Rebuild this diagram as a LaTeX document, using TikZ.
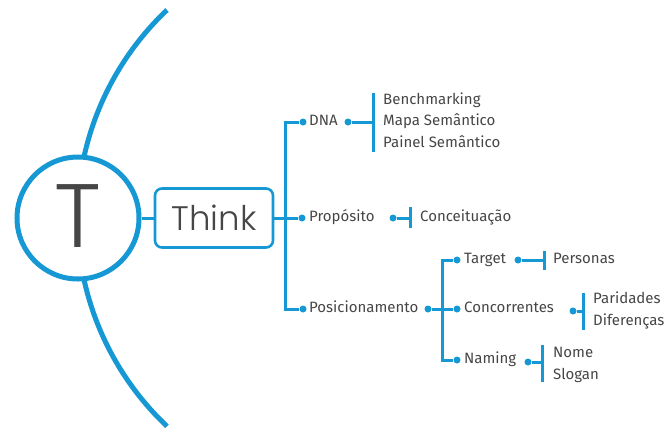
\documentclass[tikz,border=0pt]{standalone}
\usepackage{fontspec}
\setmainfont{Fira Sans}
\newfontfamily\thinkfont{Poppins}[UprightFont=* Light]
\usetikzlibrary{positioning}
\definecolor{mapblue}{RGB}{22,152,212}
\definecolor{mapgray}{RGB}{70,70,70}

\begin{document}
\begin{tikzpicture}[x=1pt, y=-1pt,
  line/.style={mapblue, line width=3pt},
  dot/.style={circle, fill=mapblue, inner sep=0pt, minimum size=7pt},
  word/.style={anchor=west, inner sep=0pt, text=mapgray, text height=1.6ex, text depth=0.4ex,
    font=\fontsize{15}{17}\selectfont}]
\useasboundingbox (0,0) rectangle (669,429);

% big arc behind the T
\draw[mapblue, line width=5pt] (167,10) arc[start angle=226.6, end angle=133.4, radius=286.5];

\node[circle, draw=mapblue, line width=5pt, fill=white, minimum size=122pt, inner sep=0pt,
  text=mapgray, text depth=4pt]
  (tee) at (78,218) {\thinkfont\fontsize{90}{90}\selectfont T};
\node[draw=mapblue, line width=2.6pt, rounded corners=7pt, fill=white, text=mapgray,
  minimum width=118pt, minimum height=59pt, inner sep=0pt]
  (think) at (214,218) {\thinkfont\fontsize{34}{34}\selectfont Think};
\coordinate (bus) at (285,218);

\begin{scope}[line]
\draw (tee) -- (think);
\draw (think) -- (bus);
\end{scope}

% first level
\node[dot] (dnadot) at (303,122) {};
\node[word] (dna) at (309,122) {DNA};
\node[dot] (propdot) at (302,218) {};
\node[word] (prop) at (309,218) {Propósito};
\node[dot] (posdot) at (303,309) {};
\node[word] (pos) at (309,309) {Posicionamento};

\begin{scope}[line]
\draw (dnadot) -| (bus);
\draw (posdot) -| (bus);
\draw (propdot) -- (bus);
\end{scope}

% DNA
\node[dot] (dnaend) at (348,122) {};
\coordinate (dnabar) at (373,122);
\node[word] (bench) at (383,101) {Benchmarking};
\node[word] (mapa) at (383,122) {Mapa Semântico};
\node[word] (painel) at (383,144) {Painel Semântico};
\draw[line] (dnaend) -- (dnabar);
\draw[line] (373,93) -- (373,152);

% Proposito
\node[dot] (propend) at (393,218) {};
\coordinate (propbar) at (410,218);
\node[word] (conc) at (420,218) {Conceituação};
\draw[line] (propend) -- (propbar);
\draw[line] (410,207) -- (410,228);

% Posicionamento
\node[dot] (posend) at (428,309) {};
\coordinate (posbus) at (442,309);
\draw[line] (posend) -- (posbus);

\node[dot] (tardot) at (457,260) {};
\node[word] (target) at (464,260) {Target};
\node[dot] (condot) at (457,309) {};
\node[word] (concor) at (464,309) {Concorrentes};
\node[dot] (namdot) at (457,360) {};
\node[word] (naming) at (464,360) {Naming};

\begin{scope}[line]
\draw (tardot) -| (posbus);
\draw (namdot) -| (posbus);
\draw (condot) -- (posbus);
\end{scope}

\node[dot] (tarend) at (518,260) {};
\node[word] (personas) at (553,260) {Personas};
\draw[line] (tarend) -- (544,260);
\draw[line] (544,251) -- (544,270);

\node[dot] (conend) at (573,311) {};
\node[word] (paridades) at (593,300) {Paridades};
\node[word] (diferencas) at (593,322) {Diferenças};
\draw[line] (conend) -- (583,311);
\draw[line] (583,293) -- (583,330);

\node[dot] (namend) at (528,362) {};
\node[word] (nome) at (553,354) {Nome};
\node[word] (slogan) at (553,376) {Slogan};
\draw[line] (namend) -- (542,362);
\draw[line] (542,345) -- (542,382);

\end{tikzpicture}
\end{document}
